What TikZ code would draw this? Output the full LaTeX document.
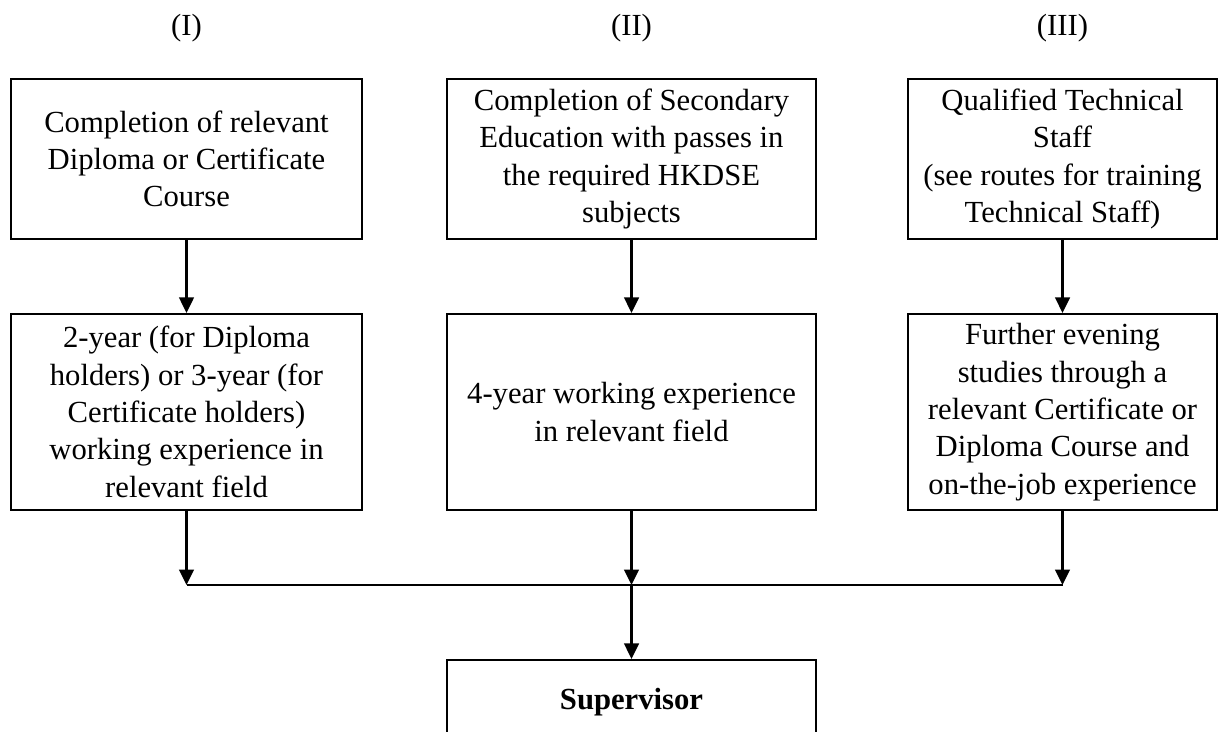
\documentclass[tikz,border=0pt]{standalone}
\usepackage{fontspec}
\setmainfont{Liberation Serif}
\usepackage{tikz}
\usetikzlibrary{
    calc,
    arrows.meta,
    positioning
}
\tikzset{
    stage/.style={draw, line width=0.8pt, align=center, inner sep=0pt,
        font=\fontsize{11.5}{14}\selectfont},
    colI/.style={stage, minimum width=131.6pt},
    colII/.style={stage, minimum width=138.4pt},
    colIII/.style={stage, minimum width=115.9pt},
    entry/.style={minimum height=60pt},
    route/.style={minimum height=73.5pt},
    heading/.style={font=\fontsize{11.5}{14}\selectfont},
    link/.style={line width=0.8pt}
}

\begin{document}
\begin{tikzpicture}[x=0.375pt, y=-0.375pt, >={Triangle[width=5.5pt,length=5.8pt]}]
        \useasboundingbox (0,0) rectangle (1218,731);

        % column headings
        \node[heading] (hI)   at (186.5,28) {(I)};
        \node[heading] (hII)  at (631.5,28) {(II)};
        \node[heading] (hIII) at (1062.5,28) {(III)};

        % entry qualifications
        \node[colI, entry] (dipl) at (186.5,159)
            {Completion of relevant\\Diploma or Certificate\\Course};
        \node[colII, entry] (sec) at (631.5,159)
            {Completion of Secondary\\Education with passes in\\the required HKDSE\\subjects};
        \node[colIII, entry] (tech) at (1062.5,159)
            {Qualified Technical\\Staff\\(see routes for training\\Technical Staff)};

        % experience
        \node[colI, route] (expI) at (186.5,412)
            {2-year (for Diploma\\holders) or 3-year (for\\Certificate holders)\\working experience in\\relevant field};
        \node[colII, route] (expII) at (631.5,412)
            {4-year working experience\\in relevant field};
        \node[colIII, route] (expIII) at (1062.5,412)
            {Further evening\\studies through a\\relevant Certificate or\\Diploma Course and\\on-the-job experience};

        % target grade
        \node[colII, minimum height=31.5pt] (sup) at (631.5,702) {\bfseries Supervisor};

        \coordinate (jI)   at (186.5,585);
        \coordinate (jII)  at (631.5,585);
        \coordinate (jIII) at (1062.5,585);

        \draw[link, ->] (dipl) -- (expI);
        \draw[link, ->] (sec) -- (expII);
        \draw[link, ->] (tech) -- (expIII);
        \draw[link, ->] (expI) -- (jI);
        \draw[link, ->] (expII) -- (jII);
        \draw[link, ->] (expIII) -- (jIII);
        \draw[link] (jI) -- (jIII);
        \draw[link, ->] (jII) -- (sup);
    \end{tikzpicture}
\end{document}
